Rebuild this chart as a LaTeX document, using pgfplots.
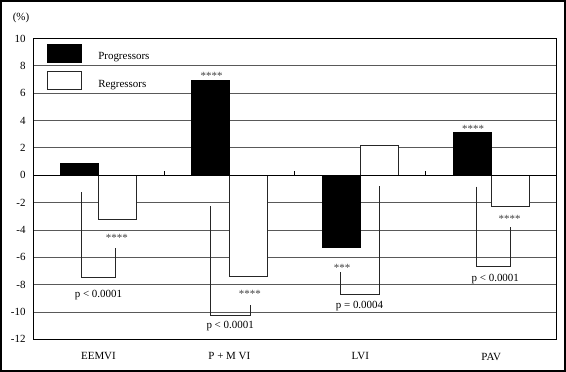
\documentclass[border=0pt]{standalone}
\usepackage{pgfplots}
\pgfplotsset{compat=1.18}
\usepackage{fontspec}
\setmainfont{Liberation Serif}
\begin{document}
\begin{tikzpicture}
\useasboundingbox (0,0) rectangle (566bp,372bp);
\draw[line width=2bp] (1bp,1bp) rectangle (565bp,371bp);
\node[font=\fontsize{11}{13}\selectfont] at (21bp,354bp) {(\%)};
\begin{axis}[
  at={(33bp,32.7bp)}, anchor=south west,
  scale only axis, width=523.7bp, height=300.8bp,
  xmin=-0.5, xmax=3.5, ymin=-12, ymax=10,
  xtick={0,1,2,3}, xticklabels={EEMVI,P + M VI,LVI,PAV},
  ytick={-12,-10,-8,-6,-4,-2,0,2,4,6,8,10},
  yticklabels={-12,-10,-8,-6,-4,-2,0,2,4,6,8,10},
  major tick length=0pt,
  ymajorgrids, grid style={black!65, line width=0.8bp},
  axis line style={black, line width=0.8bp},
  tick label style={font=\fontsize{11}{13}\selectfont},
  xticklabel style={yshift=-10bp},
  yticklabel style={xshift=-4bp},
  legend style={at={(0.0273,0.982)}, anchor=north west, draw=none, fill=none,
    inner sep=0pt, font=\fontsize{11}{13}\selectfont, row sep=8bp,
    /tikz/every odd column/.append style={column sep=14bp}},
  legend cell align=left,
  legend image code/.code={\draw[#1, line width=0.8bp] (0bp,-5.4bp) rectangle (34bp,12.6bp);},
]
\addplot[ybar, bar width=0.29, bar shift=-0.145, fill=black, draw=black, line width=0.8bp]
  coordinates {(0,0.85) (1,6.9) (2,-5.3) (3,3.1)};
\addplot[ybar, bar width=0.29, bar shift=0.145, fill=white, draw=black!85, line width=0.8bp]
  coordinates {(0,-3.2) (1,-7.4) (2,2.2) (3,-2.25)};
\legend{Progressors,Regressors}
\addplot[black, line width=0.8bp, forget plot] coordinates {(-0.5,0) (3.5,0)};
\addplot[black, line width=0.8bp, forget plot] coordinates {(0.5,0) (0.5,0.28)};
\addplot[black, line width=0.8bp, forget plot] coordinates {(1.5,0) (1.5,0.28)};
\addplot[black, line width=0.8bp, forget plot] coordinates {(2.5,0) (2.5,0.28)};
% brackets
\addplot[black!85, line width=0.8bp, forget plot] coordinates {(-0.134,-1.23) (-0.134,-7.45) (0.131,-7.45) (0.131,-5.33)};
\addplot[black!85, line width=0.8bp, forget plot] coordinates {(0.856,-2.25) (0.856,-10.25) (1.162,-10.25) (1.162,-9.5)};
\addplot[black!85, line width=0.8bp, forget plot] coordinates {(1.846,-7.08) (1.846,-8.69) (2.149,-8.69) (2.149,-0.8)};
\addplot[black!85, line width=0.8bp, forget plot] coordinates {(2.884,-0.84) (2.884,-6.64) (3.147,-6.64) (3.147,-3.81)};
% stars
\begin{scope}[every node/.style={font=\fontsize{11}{13}\selectfont, text=black!75, anchor=base, yshift=-5.5bp, inner sep=0pt}]
\node at (axis cs:0.141,-4.43) {****};
\node at (axis cs:0.864,7.4) {****};
\node at (axis cs:1.156,-8.57) {****};
\node at (axis cs:1.861,-6.64) {***};
\node at (axis cs:2.861,3.5) {****};
\node at (axis cs:3.141,-3.08) {****};
\end{scope}
\begin{scope}[every node/.style={font=\fontsize{11}{13}\selectfont, inner sep=0pt}]
\node at (axis cs:0,-8.77) {p < 0.0001};
\node at (axis cs:1.006,-11.03) {p < 0.0001};
\node at (axis cs:1.994,-9.57) {p = 0.0004};
\node at (axis cs:3.031,-7.59) {p < 0.0001};
\end{scope}
\end{axis}
\end{tikzpicture}
\end{document}
